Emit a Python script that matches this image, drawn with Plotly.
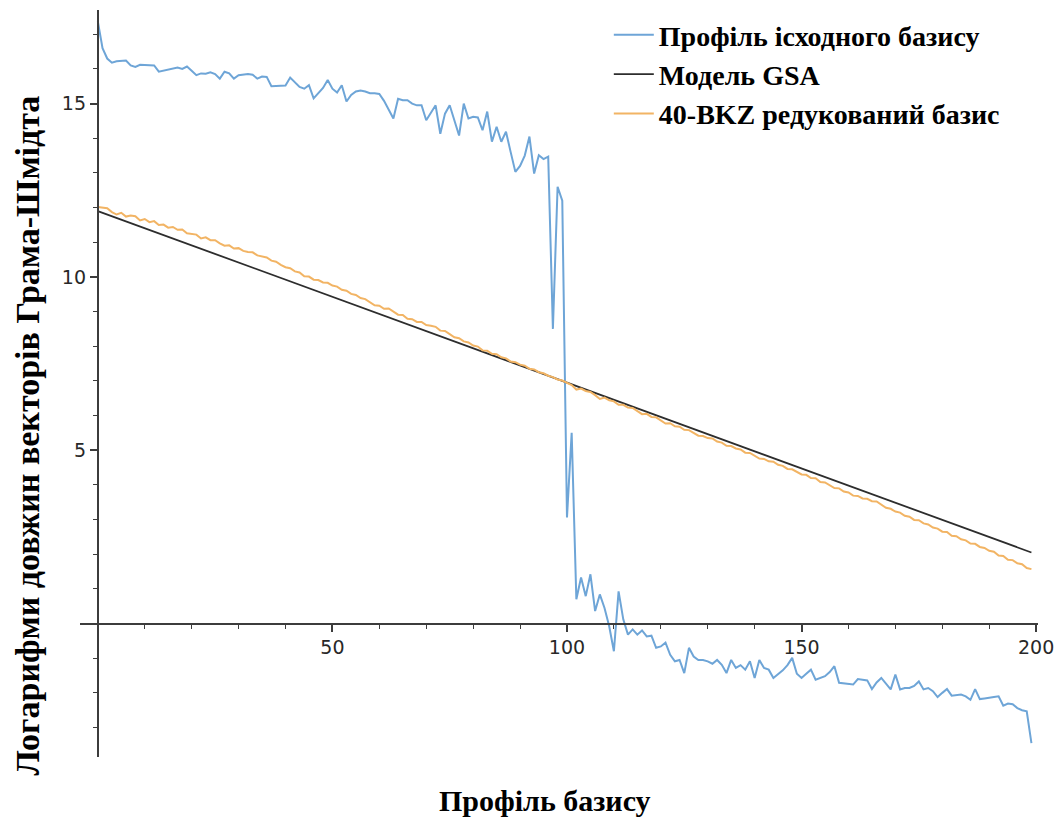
import plotly.graph_objects as go

# ---- data ----
x_index = list(range(200))

profile_original = [
    17.37, 16.6, 16.3, 16.18, 16.22, 16.22, 16.24, 16.1, 16.06, 16.12,
    16.12, 16.1, 16.1, 15.92, 15.95, 15.98, 16.0, 16.04, 16.0, 16.07,
    15.95, 15.82, 15.87, 15.86, 15.9, 15.85, 15.72, 15.92, 15.87, 15.72,
    15.82, 15.84, 15.85, 15.83, 15.72, 15.78, 15.77, 15.5, 15.5, 15.5,
    15.52, 15.75, 15.6, 15.48, 15.43, 15.53, 15.15, 15.3, 15.45, 15.68,
    15.43, 15.32, 15.53, 15.06, 15.25, 15.35, 15.38, 15.35, 15.3, 15.3,
    15.28, 15.08, 14.8, 14.57, 15.14, 15.1, 15.1, 15.0, 14.95, 14.95,
    14.52, 14.75, 14.95, 14.13, 14.71, 14.95, 14.5, 14.08, 15.0, 14.57,
    14.62, 14.6, 14.23, 14.77, 13.9, 14.33, 13.9, 14.19, 13.6, 13.03,
    13.2, 13.5, 14.05, 12.98, 13.51, 13.4, 13.47, 8.5, 12.6, 12.2,
    3.06, 5.5, 0.7, 1.33, 0.79, 1.42, 0.36, 0.84, 0.45, -0.08,
    -0.8, 0.93, 0.12, -0.32, -0.17, -0.32, -0.2, -0.37, -0.35, -0.7,
    -0.66, -0.55, -0.9, -1.09, -1.05, -1.43, -0.7, -0.95, -1.05, -1.05,
    -1.09, -1.16, -1.05, -1.19, -1.43, -1.05, -1.28, -1.2, -1.33, -1.09,
    -1.57, -1.05, -1.28, -1.33, -1.57, -1.47, -1.35, -1.2, -0.99, -1.45,
    -1.57, -1.45, -1.33, -1.62, -1.56, -1.52, -1.4, -1.23, -1.71, -1.73,
    -1.74, -1.76, -1.6, -1.63, -1.64, -1.89, -1.7, -1.57, -1.75, -1.9,
    -1.47, -1.9, -1.86, -1.86, -1.8, -1.67, -1.9, -1.86, -1.95, -2.12,
    -2.0, -1.89, -2.08, -2.06, -2.05, -2.1, -2.2, -1.89, -2.18, -2.16,
    -2.15, -2.12, -2.1, -2.37, -2.31, -2.33, -2.44, -2.5, -2.53, -3.45,
]

gsa_x = [0, 199]
gsa_y = [11.9, 2.05]

bkz_reduced = [
    12.02, 11.99, 11.98, 11.87, 11.80, 11.85, 11.74, 11.77, 11.75, 11.63,
    11.67, 11.58, 11.61, 11.50, 11.51, 11.42, 11.44, 11.36, 11.37, 11.26,
    11.23, 11.22, 11.11, 11.14, 11.06, 11.06, 10.97, 10.90, 10.91, 10.82,
    10.83, 10.75, 10.72, 10.71, 10.62, 10.59, 10.56, 10.47, 10.44, 10.35,
    10.28, 10.25, 10.16, 10.13, 10.02, 10.01, 9.92, 9.91, 9.84, 9.83,
    9.75, 9.72, 9.63, 9.60, 9.51, 9.48, 9.39, 9.36, 9.27, 9.18,
    9.17, 9.08, 9.09, 9.00, 8.91, 8.90, 8.79, 8.78, 8.70, 8.70,
    8.61, 8.59, 8.56, 8.45, 8.44, 8.35, 8.26, 8.23, 8.14, 8.11,
    8.02, 7.99, 7.88, 7.87, 7.78, 7.77, 7.68, 7.65, 7.56, 7.54,
    7.47, 7.44, 7.35, 7.33, 7.25, 7.22, 7.15, 7.11, 7.04, 7.01,
    6.95, 6.88, 6.75, 6.78, 6.71, 6.68, 6.59, 6.48, 6.52, 6.44,
    6.41, 6.31, 6.31, 6.23, 6.22, 6.13, 6.04, 6.05, 5.96, 5.95,
    5.86, 5.77, 5.78, 5.69, 5.68, 5.59, 5.58, 5.51, 5.42, 5.41,
    5.35, 5.34, 5.25, 5.22, 5.13, 5.12, 5.05, 5.02, 4.93, 4.92,
    4.85, 4.76, 4.75, 4.68, 4.67, 4.58, 4.55, 4.46, 4.45, 4.38,
    4.30, 4.29, 4.20, 4.19, 4.08, 4.07, 4.00, 3.91, 3.90, 3.81,
    3.78, 3.69, 3.68, 3.61, 3.60, 3.53, 3.52, 3.43, 3.34, 3.31,
    3.23, 3.20, 3.11, 3.08, 2.99, 2.98, 2.89, 2.86, 2.77, 2.74,
    2.65, 2.64, 2.53, 2.52, 2.43, 2.40, 2.31, 2.30, 2.21, 2.18,
    2.10, 2.07, 1.96, 1.95, 1.84, 1.83, 1.74, 1.71, 1.60, 1.57,
]

series_names = ["Профіль ісходного базису", "Модель GSA", "40-BKZ редукований базис"]
x_tick_vals = [50, 100, 150, 200]
y_tick_vals = [5, 10, 15]
x_title = "Профіль базису"
y_title = "Логарифми довжин векторів Грама-Шмідта"

X_RANGE = [-3.8, 200.4]
Y_RANGE = [-3.85, 17.7]

fig = go.Figure()
fig.add_trace(go.Scatter(x=x_index, y=profile_original, mode="lines",
                         name=series_names[0],
                         line=dict(color="rgb(110,165,215)", width=2)))
fig.add_trace(go.Scatter(x=gsa_x, y=gsa_y, mode="lines",
                         name=series_names[1],
                         line=dict(color="rgb(45,45,45)", width=1.8)))
fig.add_trace(go.Scatter(x=x_index, y=bkz_reduced, mode="lines",
                         name=series_names[2],
                         line=dict(color="rgb(242,180,100)", width=2)))

xpos = (0 - Y_RANGE[0]) / (Y_RANGE[1] - Y_RANGE[0])
ypos = (0 - X_RANGE[0]) / (X_RANGE[1] - X_RANGE[0])

axis_col = "rgb(60,60,60)"
tick_font = dict(family="DejaVu Sans", size=19, color="rgb(40,40,40)")

fig.update_layout(
    width=1064, height=819,
    margin=dict(l=80, r=19, t=10, b=62),
    paper_bgcolor="white", plot_bgcolor="white",
    showlegend=True,
    legend=dict(x=0.552, y=1.0, xanchor="left", yanchor="top",
                font=dict(family="Liberation Serif", size=28, color="black", weight="bold"),
                bgcolor="rgba(255,255,255,0)", tracegroupgap=0, itemwidth=40),
    xaxis=dict(range=X_RANGE, anchor="free", position=xpos,
               showgrid=False, zeroline=False, showline=True,
               linecolor=axis_col, linewidth=2,
               tickmode="array", tickvals=x_tick_vals,
               ticks="outside", ticklen=7, tickwidth=1.5, tickcolor=axis_col,
               tickfont=tick_font,
               minor=dict(tickmode="linear", tick0=0, dtick=10, ticks="outside",
                          ticklen=4, tickwidth=1.2, tickcolor=axis_col)),
    yaxis=dict(range=Y_RANGE, anchor="free", position=ypos,
               showgrid=False, zeroline=False, showline=True,
               linecolor=axis_col, linewidth=2,
               tickmode="array", tickvals=y_tick_vals,
               ticks="outside", ticklen=7, tickwidth=1.5, tickcolor=axis_col,
               tickfont=tick_font,
               minor=dict(tickmode="linear", tick0=0, dtick=1, ticks="outside",
                          ticklen=4, tickwidth=1.2, tickcolor=axis_col)),
    annotations=[
        dict(text=x_title, xref="paper", yref="paper", x=(548 - 80) / 965, y=-0.058,
             xanchor="center", yanchor="middle", showarrow=False,
             font=dict(family="Liberation Serif", size=30, color="black", weight="bold")),
        dict(text=y_title, xref="paper", yref="paper", x=(27 - 80) / 965, y=(757 - 435) / 747,
             xanchor="center", yanchor="middle", showarrow=False, textangle=-90,
             font=dict(family="Liberation Serif", size=34, color="black", weight="bold")),
    ],
)

fig.write_html("out.html")
